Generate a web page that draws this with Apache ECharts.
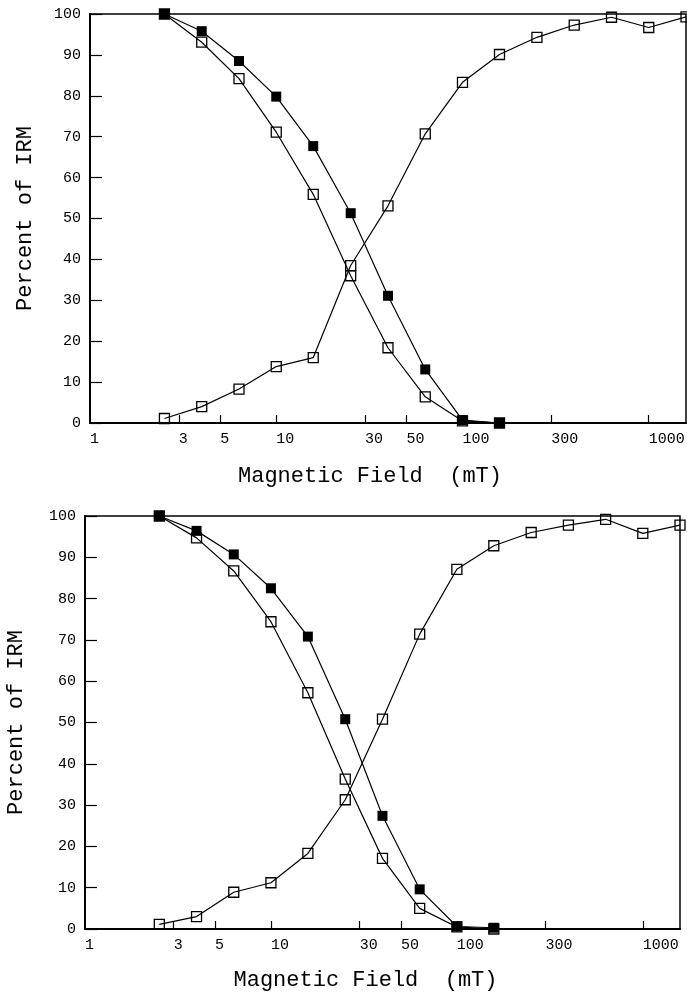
<!DOCTYPE html>
<html>
<head>
<meta charset="utf-8">
<script src="https://cdn.jsdelivr.net/npm/echarts@6/dist/echarts.min.js"></script>
<style>
  html, body { margin: 0; padding: 0; background: #fff; }
  #chart { width: 687px; height: 994px; }
</style>
</head>
<body>
<div id="chart"></div>
<script>
// applied field steps (mT), 5 per decade
const fields = [2.51, 3.98, 6.31, 10, 15.8, 25.1, 39.8, 63.1, 100, 158, 251, 398, 631, 1000, 1585]

// upper panel
const topFilled = [100, 95.8, 88.5, 79.8, 67.7, 51.3, 31.1, 13.1, 0.7, 0]
const topOpen = [100, 93.1, 84.2, 71.1, 55.9, 36.0, 18.4, 6.4, 0.5, 0]
const topIrm = [1.1, 4.0, 8.3, 13.8, 16.0, 38.5, 53.1, 70.7, 83.3, 90.1, 94.3, 97.3, 99.2, 96.7, 99.3]

// lower panel
const botFilled = [100, 96.4, 90.7, 82.5, 70.8, 50.8, 27.4, 9.6, 0.6, 0.3]
const botOpen = [100, 94.7, 86.7, 74.4, 57.2, 36.3, 17.1, 5.0, 0.5, 0]
const botIrm = [1.1, 3.0, 8.9, 11.2, 18.3, 31.3, 50.8, 71.4, 87.1, 92.8, 96.0, 97.8, 99.2, 95.8, 97.8]

const xLabels = [1, 3, 5, 10, 30, 50, 100, 300, 1000]
const xTicks = [3, 5, 10, 30, 50, 100, 300, 1000]

const font = 'Liberation Mono'

const pairs = (vals) => vals.map((v, i) => [fields[i], v])

const makeX = (idx) => ({
  type: 'log',
  logBase: 10,
  gridIndex: idx,
  min: 1,
  max: 1585,
  name: 'Magnetic Field  (mT)',
  nameLocation: 'middle',
  nameGap: idx === 0 ? 42 : 40,
  nameTextStyle: { fontFamily: font, fontSize: 22, color: '#000', padding: [0, idx === 0 ? 36 : 34, 0, 0] },
  axisLine: { lineStyle: { color: '#000', width: 2 } },
  axisTick: { inside: true, length: 8, customValues: xTicks, lineStyle: { color: '#000', width: 1.2 } },
  axisLabel: {
    customValues: xLabels,
    formatter: (v) => String(Math.round(v)),
    fontFamily: font, fontSize: 15, color: '#000', margin: 9, align: 'left'
  },
  minorTick: { show: false },
  splitLine: { show: false }
})

const makeY = (idx) => ({
  type: 'value',
  gridIndex: idx,
  min: 0,
  max: 100,
  interval: 10,
  name: 'Percent of IRM',
  nameLocation: 'middle',
  nameRotate: 90,
  nameGap: idx === 0 ? 54 : 58,
  nameTextStyle: { fontFamily: font, fontSize: 22, color: '#000' },
  axisLine: { lineStyle: { color: '#000', width: 2 } },
  axisTick: { inside: true, length: 12, lineStyle: { color: '#000', width: 1.2 } },
  axisLabel: { fontFamily: font, fontSize: 15, color: '#000', margin: 9 },
  splitLine: { show: false }
})

const filledStyle = { color: '#000' }
const openStyle = { color: 'rgba(0,0,0,0)', borderColor: '#000', borderWidth: 1.3 }

const makeSeries = (idx, vals, style) => ({
  type: 'line',
  xAxisIndex: idx,
  yAxisIndex: idx,
  data: pairs(vals),
  symbol: 'rect',
  symbolSize: 10,
  itemStyle: style,
  lineStyle: { color: '#000', width: 1.2 },
  emphasis: { disabled: true }
})

const myChart = echarts.init(document.getElementById('chart'))

const option = {
  animation: false,
  backgroundColor: '#fff',
  grid: [
    { left: 90, top: 14, width: 596, height: 409, outerBoundsMode: 'none', show: true, borderColor: '#000', borderWidth: 1.5 },
    { left: 85, top: 516, width: 595, height: 413, outerBoundsMode: 'none', show: true, borderColor: '#000', borderWidth: 1.5 }
  ],
  xAxis: [makeX(0), makeX(1)],
  yAxis: [makeY(0), makeY(1)],
  series: [
    makeSeries(0, topIrm, openStyle),
    makeSeries(0, topOpen, openStyle),
    makeSeries(0, topFilled, filledStyle),
    makeSeries(1, botIrm, openStyle),
    makeSeries(1, botOpen, openStyle),
    makeSeries(1, botFilled, filledStyle)
  ]
}

myChart.setOption(option)
</script>
</body>
</html>
